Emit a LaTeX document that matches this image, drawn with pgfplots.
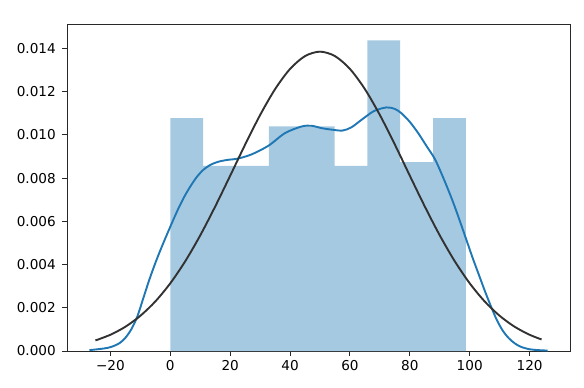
\documentclass[border=0pt]{standalone}
\usepackage{pgfplots}
\pgfplotsset{compat=1.18}
\usepackage{fontspec}
\setmainfont{DejaVu Sans}
\definecolor{barblue}{RGB}{165,201,225}
\definecolor{kdeblue}{RGB}{31,119,180}
\definecolor{fitgray}{RGB}{50,50,50}
\definecolor{spine}{RGB}{40,40,40}
\begin{document}
\fontsize{13.6bp}{16bp}\selectfont
\begin{tikzpicture}[x=1bp,y=1bp]
\useasboundingbox (-67,-36) rectangle (517,351);
\begin{axis}[
  at={(0,0)}, anchor=south west,
  scale only axis, width=503bp, height=327bp,
  xmin=-34.5, xmax=133.5, ymin=0, ymax=0.01513,
  axis line style={draw=spine, line width=0.9bp},
  tick style={draw=spine, line width=0.9bp},
  tick align=outside, major tick length=4.5bp,
  xtick={-20,0,20,40,60,80,100,120},
  xticklabels={−20,0,20,40,60,80,100,120},
  ytick={0,0.002,0.004,0.006,0.008,0.010,0.012,0.014},
  scaled y ticks=false,
  yticklabel style={xshift=-2bp, /pgf/number format/.cd, fixed, fixed zerofill, precision=3, assume math mode=true},
  xticklabel style={yshift=-0.5bp},
  xtick pos=bottom, ytick pos=left,
  tick label style={font=\fontsize{13.6bp}{16bp}\selectfont, text=black},
  clip=true,
]
\addplot[ybar interval, fill=barblue, draw=none] coordinates {
  (0,0.01078) (10.97,0.00857) (21.94,0.00857) (32.91,0.01039) (43.88,0.01039)
  (54.85,0.00857) (65.82,0.01437) (76.79,0.00874) (87.76,0.01078) (98.73,0.01078)
};
\addplot[kdeblue, line width=1.9bp, smooth, tension=0.5] coordinates {
  (-27,0.00004) (-22,0.00012) (-19.5,0.0002) (-17,0.00036) (-15,0.00061)
  (-13,0.00101) (-11,0.00160) (-9,0.00245) (-7,0.00330) (-5,0.00407)
  (-3,0.00477) (-1,0.00543) (1,0.00607) (3,0.00668) (5,0.00722)
  (7,0.00768) (9,0.00808) (11,0.00838) (13,0.00858) (15,0.00871)
  (17,0.00879) (19.5,0.00885) (22.5,0.0089) (27.2,0.0091) (32.8,0.0095)
  (38.3,0.01008) (43.9,0.01039) (47.2,0.01042) (50.6,0.01031) (54,0.01024)
  (57.5,0.0102) (60.5,0.01035) (63.9,0.0107) (68,0.0111) (72.2,0.01127)
  (75,0.0112) (77.2,0.0110) (80,0.0106) (82.8,0.01008) (85.5,0.0095)
  (88.3,0.0089) (90.6,0.0082) (93,0.0074) (95,0.00668) (97,0.0059)
  (99,0.0051) (101,0.0043) (103,0.00355) (105,0.0028) (107,0.0021)
  (109,0.00145) (111,0.00095) (113,0.0006) (115,0.00036) (117,0.0002)
  (120,0.00008) (123,0.00004) (126,0.00002)
};
\addplot[fitgray, line width=1.9bp, smooth] coordinates {
  (-25,0.000489) (-20,0.000752) (-15,0.001123) (-10,0.001629) (-5,0.002293)
  (0,0.003133) (5,0.004155) (10,0.005350) (15,0.006687) (20,0.008110)
  (25,0.009552) (30,0.010919) (35,0.012116) (40,0.013051) (45,0.013645)
  (50,0.01385) (55,0.013645) (60,0.013051) (65,0.012116) (70,0.010919)
  (75,0.009552) (80,0.008110) (85,0.006687) (90,0.005350) (95,0.004155)
  (100,0.003133) (105,0.002293) (110,0.001629) (115,0.001123) (120,0.000752)
  (124,0.000534)
};
\end{axis}
\end{tikzpicture}
\end{document}
